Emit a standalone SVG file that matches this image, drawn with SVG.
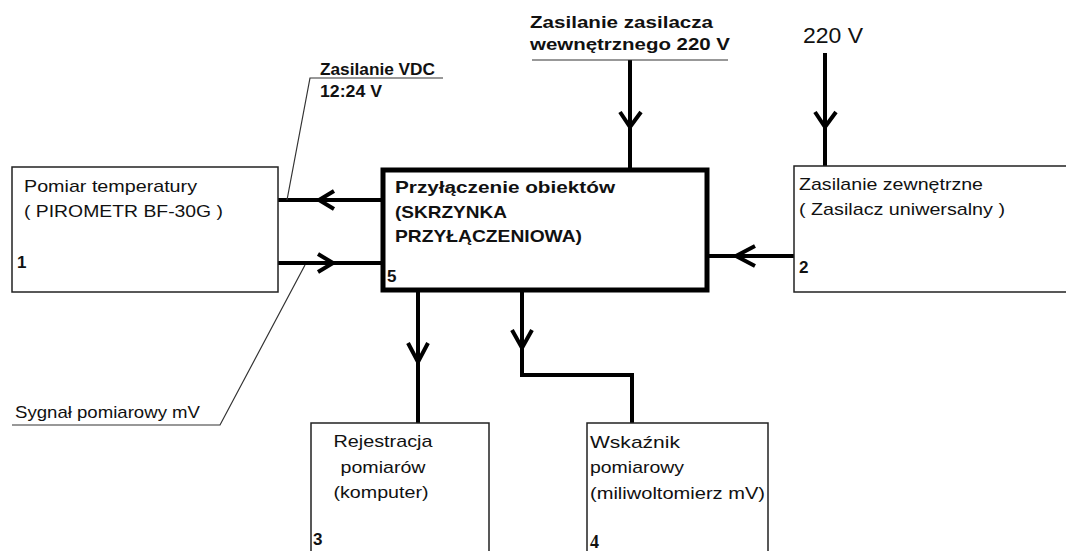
<svg xmlns="http://www.w3.org/2000/svg" width="1066" height="551" viewBox="0 0 1066 551">
<style>
text{font-family:"Liberation Sans",Arial,sans-serif;fill:#111}
.t{font-size:17px}
.b{font-size:17px;font-weight:bold}
.lb{font-size:16px;font-weight:bold}
.num{font-size:17px;font-weight:bold}
.box{fill:#fff;stroke:#222;stroke-width:1.5}
.main{fill:#fff;stroke:#000;stroke-width:5}
.wire{fill:none;stroke:#000;stroke-width:4;stroke-linejoin:miter}
.head{fill:none;stroke:#000;stroke-width:4;stroke-linecap:butt;stroke-linejoin:miter}
.lead{fill:none;stroke:#333;stroke-width:1.2}
</style>
<rect width="1066" height="551" fill="#fff"/>
<g id="connectors">
  <line class="wire" x1="383" y1="200" x2="278" y2="200"/>
  <polyline class="head" points="334,191 319,200 334,209"/>
  <line class="wire" x1="278" y1="263" x2="383" y2="263"/>
  <polyline class="head" points="318,254 333,263 318,272"/>
  <line class="wire" x1="794" y1="256" x2="707" y2="256"/>
  <polyline class="head" points="755,246 736,256 755,266"/>
  <line class="wire" x1="630" y1="60" x2="630" y2="170"/>
  <polyline class="head" points="620,112 630,127 641,112"/>
  <line class="wire" x1="825" y1="53" x2="825" y2="166"/>
  <polyline class="head" points="815,112 825,127 836,112"/>
  <line class="wire" x1="418" y1="290" x2="418" y2="423"/>
  <polyline class="head" points="408,343 418,362 428,343"/>
  <polyline class="wire" points="522,290 522,375 632,375 632,423"/>
  <polyline class="head" points="512,330 522,348 532,330"/>
  <polyline class="lead" points="443,78 310,78 287,200"/>
  <polyline class="lead" points="12,425 220,425 305,265"/>
  <line class="lead" x1="532" y1="60" x2="728" y2="60"/>
</g>
<g id="labels">
  <text class="lb" x="320" y="75" textLength="115" lengthAdjust="spacingAndGlyphs">Zasilanie VDC</text>
  <text class="lb" x="320" y="97" textLength="62" lengthAdjust="spacingAndGlyphs">12:24 V</text>
  <text class="t" x="15" y="418" textLength="185" lengthAdjust="spacingAndGlyphs">Sygnał pomiarowy mV</text>
  <text class="b" x="530" y="28" textLength="183" lengthAdjust="spacingAndGlyphs">Zasilanie zasilacza</text>
  <text class="b" x="530" y="50" textLength="200" lengthAdjust="spacingAndGlyphs">wewnętrznego 220 V</text>
  <text x="803" y="43" style="font-size:22px" textLength="60" lengthAdjust="spacingAndGlyphs">220 V</text>
</g>
<g id="node1">
  <rect class="box" x="12" y="167" width="266" height="125"/>
  <text class="t" x="24" y="192" textLength="173" lengthAdjust="spacingAndGlyphs">Pomiar temperatury</text>
  <text class="t" x="24" y="217" textLength="199" lengthAdjust="spacingAndGlyphs">( PIROMETR BF-30G )</text>
  <text class="num" x="17" y="268">1</text>
</g>
<g id="node5">
  <rect class="main" x="383" y="170" width="324" height="120"/>
  <text class="b" x="395" y="193" textLength="220" lengthAdjust="spacingAndGlyphs">Przyłączenie obiektów</text>
  <text class="b" x="395" y="218" textLength="112" lengthAdjust="spacingAndGlyphs">(SKRZYNKA</text>
  <text class="b" x="395" y="242" textLength="187" lengthAdjust="spacingAndGlyphs">PRZYŁĄCZENIOWA)</text>
  <text class="num" x="387" y="282">5</text>
</g>
<g id="node2">
  <path class="box" d="M1070,166 H794 V292 H1070"/>
  <text class="t" x="799" y="190" textLength="184" lengthAdjust="spacingAndGlyphs">Zasilanie zewnętrzne</text>
  <text class="t" x="799" y="215" textLength="206" lengthAdjust="spacingAndGlyphs">( Zasilacz uniwersalny )</text>
  <text class="num" x="799" y="273">2</text>
</g>
<g id="node3">
  <path class="box" d="M311,560 V423 H489 V560"/>
  <text class="t" x="383" y="447" text-anchor="middle" textLength="99" lengthAdjust="spacingAndGlyphs">Rejestracja</text>
  <text class="t" x="383" y="473" text-anchor="middle" textLength="85" lengthAdjust="spacingAndGlyphs">pomiarów</text>
  <text class="t" x="381" y="498" text-anchor="middle" textLength="95" lengthAdjust="spacingAndGlyphs">(komputer)</text>
  <text class="num" x="313" y="545">3</text>
</g>
<g id="node4">
  <path class="box" d="M587,560 V423 H768 V560"/>
  <text class="t" x="590" y="448" textLength="90" lengthAdjust="spacingAndGlyphs">Wskaźnik</text>
  <text class="t" x="590" y="473" textLength="94" lengthAdjust="spacingAndGlyphs">pomiarowy</text>
  <text class="t" x="590" y="499" textLength="175" lengthAdjust="spacingAndGlyphs">(miliwoltomierz mV)</text>
  <text x="590" y="548" style="font-family:'Liberation Serif',serif;font-size:18px;font-weight:bold">4</text>
</g>
</svg>
